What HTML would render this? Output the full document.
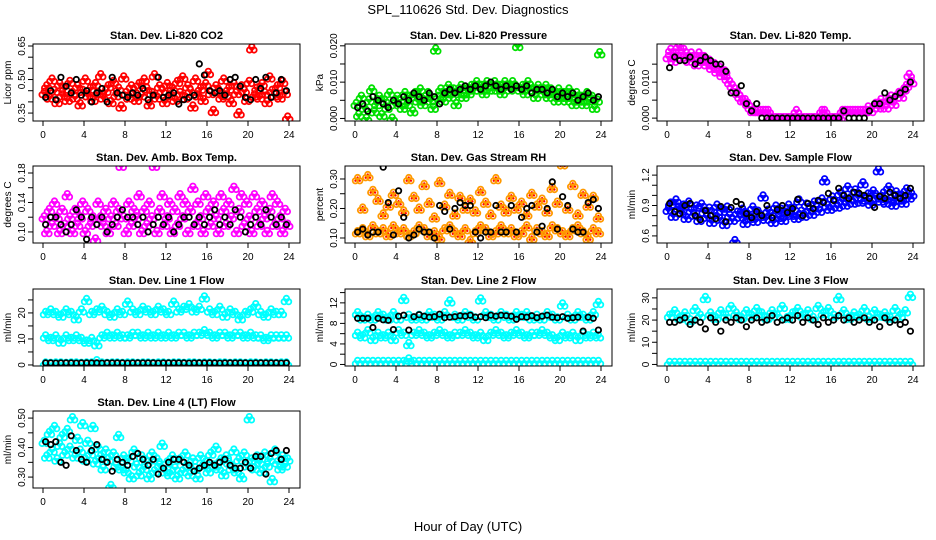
<!DOCTYPE html>
<html><head><meta charset="utf-8"><style>
html,body{margin:0;padding:0;background:#fff}
svg{display:block;font-family:"Liberation Sans",sans-serif}
</style></head><body>
<svg id="c" width="936" height="540" viewBox="0 0 936 540">
<text x="468" y="14" text-anchor="middle" font-size="13">SPL_110626  Std. Dev. Diagnostics</text>
<text x="468" y="531" text-anchor="middle" font-size="13">Hour of Day (UTC)</text>
</svg>
<script>
const xTicks=[0,4,8,12,16,20,24];
const co2Color=[0.44,0.47,0.42,0.50,0.45,0.40,0.48,0.43,0.46,0.41,0.49,0.44,0.42,0.47,0.39,0.45,0.50,0.43,0.46,0.41,0.48,0.44,0.52,0.42,0.45,0.47,0.40,0.49,0.43,0.46,0.38,0.51,0.44,0.42,0.47,0.45,0.41,0.48,0.43,0.50,0.46,0.39,0.44,0.52,0.42,0.47,0.45,0.40,0.48,0.43,0.46,0.41,0.49,0.44,0.51,0.42,0.47,0.45,0.38,0.50,0.43,0.46,0.41,0.48,0.53,0.44,0.36,0.47,0.45,0.42,0.50,0.43,0.46,0.40,0.48,0.44,0.35,0.47,0.45,0.41,0.49,0.64,0.43,0.46,0.42,0.48,0.44,0.40,0.51,0.45,0.43,0.47,0.42,0.49,0.44,0.33];
const co2Black=[0.42,0.45,0.41,0.51,0.47,0.44,0.50,0.43,0.45,0.40,0.44,0.46,0.40,0.51,0.44,0.43,0.42,0.44,0.43,0.46,0.41,0.43,0.51,0.42,0.43,0.44,0.39,0.41,0.42,0.43,0.57,0.52,0.45,0.44,0.45,0.43,0.50,0.51,0.47,0.42,0.41,0.50,0.46,0.51,0.42,0.44,0.50,0.45];
const presColor=[0.004,0.001,0.006,0.003,0.000,0.005,0.008,0.002,0.004,0.006,0.001,0.005,0.003,0.007,0.000,0.004,0.006,0.005,0.003,0.007,0.004,0.006,0.002,0.007,0.005,0.008,0.004,0.006,0.007,0.005,0.003,0.019,0.006,0.008,0.005,0.007,0.009,0.006,0.008,0.004,0.007,0.009,0.006,0.008,0.007,0.009,0.008,0.010,0.008,0.009,0.007,0.010,0.008,0.009,0.010,0.008,0.009,0.007,0.010,0.009,0.008,0.010,0.009,0.020,0.008,0.009,0.007,0.010,0.009,0.008,0.006,0.009,0.008,0.007,0.009,0.006,0.008,0.007,0.005,0.008,0.006,0.007,0.005,0.008,0.006,0.004,0.007,0.005,0.006,0.004,0.007,0.005,0.006,0.003,0.005,0.018];
const presBlack=[0.003,0.004,0.002,0.006,0.005,0.004,0.003,0.005,0.004,0.006,0.005,0.007,0.006,0.005,0.007,0.006,0.004,0.007,0.008,0.007,0.008,0.009,0.008,0.009,0.008,0.009,0.010,0.009,0.008,0.009,0.008,0.009,0.008,0.009,0.007,0.008,0.008,0.007,0.008,0.006,0.007,0.006,0.007,0.005,0.006,0.007,0.005,0.006];
const tempColor=[0.017,0.019,0.016,0.018,0.020,0.017,0.019,0.018,0.016,0.018,0.017,0.015,0.018,0.016,0.017,0.015,0.016,0.014,0.015,0.013,0.014,0.012,0.013,0.011,0.010,0.009,0.008,0.007,0.006,0.005,0.005,0.004,0.003,0.002,0.002,0.002,0.002,0.002,0.002,0.002,0.000,0.000,0.000,0.000,0.000,0.000,0.000,0.000,0.000,0.000,0.002,0.000,0.000,0.000,0.000,0.000,0.000,0.000,0.000,0.000,0.002,0.002,0.000,0.000,0.000,0.000,0.000,0.000,0.002,0.002,0.002,0.002,0.002,0.002,0.002,0.002,0.002,0.002,0.003,0.002,0.003,0.004,0.003,0.005,0.004,0.003,0.005,0.006,0.004,0.006,0.007,0.006,0.008,0.009,0.012,0.010];
const tempBlack=[0.014,0.017,0.016,0.016,0.017,0.015,0.016,0.017,0.016,0.015,0.015,0.013,0.007,0.007,0.009,0.004,0.002,0.004,0.000,0.000,0.000,0.000,0.000,0.000,0.000,0.000,0.000,0.000,0.000,0.000,0.000,0.000,0.000,0.000,0.002,0.000,0.000,0.000,0.000,0.002,0.004,0.004,0.007,0.005,0.006,0.007,0.008,0.010];
const ambColor=[0.12,0.10,0.13,0.11,0.14,0.12,0.10,0.13,0.11,0.15,0.12,0.10,0.13,0.11,0.12,0.14,0.10,0.13,0.11,0.12,0.09,0.14,0.12,0.11,0.13,0.10,0.12,0.14,0.11,0.13,0.19,0.12,0.10,0.14,0.11,0.13,0.12,0.15,0.10,0.13,0.11,0.14,0.12,0.19,0.10,0.13,0.15,0.11,0.12,0.14,0.10,0.13,0.11,0.15,0.12,0.14,0.10,0.13,0.16,0.11,0.14,0.12,0.10,0.15,0.13,0.11,0.14,0.12,0.10,0.15,0.13,0.11,0.14,0.12,0.16,0.10,0.13,0.15,0.11,0.14,0.12,0.10,0.15,0.13,0.11,0.14,0.12,0.10,0.13,0.15,0.11,0.14,0.12,0.10,0.13,0.11];
const ambBlack=[0.11,0.12,0.12,0.11,0.10,0.11,0.13,0.12,0.09,0.12,0.11,0.12,0.10,0.11,0.12,0.13,0.12,0.12,0.11,0.12,0.10,0.11,0.12,0.11,0.12,0.10,0.11,0.12,0.12,0.11,0.12,0.11,0.12,0.13,0.11,0.12,0.11,0.13,0.12,0.10,0.11,0.12,0.11,0.13,0.12,0.11,0.12,0.11];
const rhHigh=[0.30,0.20,0.31,0.26,0.23,0.18,0.21,0.25,0.22,0.19,0.30,0.24,0.20,0.28,0.22,0.17,0.29,0.21,0.25,0.18,0.24,0.20,0.23,0.19,0.26,0.22,0.18,0.30,0.21,0.19,0.24,0.20,0.22,0.18,0.25,0.21,0.23,0.19,0.27,0.22,0.35,0.20,0.28,0.18,0.25,0.21,0.24,0.17];
const rhLow=[0.12,0.13,0.11,0.14,0.12,0.13,0.11,0.14,0.12,0.13,0.11,0.12,0.14,0.13,0.11,0.12,0.10,0.13,0.14,0.12,0.11,0.13,0.09,0.12,0.14,0.13,0.11,0.12,0.14,0.12,0.13,0.11,0.12,0.14,0.10,0.13,0.12,0.11,0.14,0.13,0.12,0.11,0.13,0.14,0.12,0.10,0.13,0.12];
const rhBlack=[0.12,0.13,0.11,0.12,0.12,0.34,0.22,0.11,0.26,0.17,0.10,0.11,0.13,0.12,0.12,0.10,0.21,0.19,0.13,0.20,0.22,0.21,0.21,0.12,0.10,0.12,0.12,0.21,0.12,0.12,0.21,0.12,0.17,0.20,0.21,0.12,0.14,0.20,0.29,0.13,0.24,0.21,0.13,0.12,0.12,0.22,0.23,0.20];
const flowColor=[0.86,0.92,0.80,0.95,0.88,0.83,0.90,0.78,0.93,0.85,0.81,0.89,0.76,0.91,0.84,0.79,0.87,0.74,0.82,0.90,0.77,0.85,0.72,0.88,0.80,0.76,0.55,0.83,0.79,0.86,0.73,0.81,0.78,0.88,0.75,0.84,0.80,0.99,0.77,0.85,0.82,0.74,0.89,0.79,0.86,0.76,0.83,0.90,0.81,0.87,0.78,0.95,0.84,0.80,0.91,0.86,0.82,0.93,0.88,0.85,0.96,1.15,0.90,0.87,0.98,0.93,0.89,1.02,0.95,0.91,1.08,0.97,0.93,1.05,0.99,0.94,1.12,0.96,1.01,0.92,1.04,0.98,1.25,0.95,1.02,0.93,1.08,0.97,0.91,1.03,0.96,1.00,0.93,1.06,0.98,1.01];
const flowBlack=[0.92,0.84,0.82,0.90,0.92,0.80,0.76,0.85,0.80,0.77,0.89,0.74,0.88,0.94,0.91,0.82,0.78,0.84,0.80,0.90,0.78,0.86,0.90,0.83,0.87,0.96,0.80,0.92,0.87,0.95,0.93,1.02,0.95,1.07,1.00,0.97,1.03,1.02,1.00,0.97,0.88,0.99,0.97,1.03,1.00,0.97,1.00,1.07];
const l1High=[20,21,20,19,21,20,18,21,25,20,21,22,20,19,21,20,24,21,20,22,21,20,22,21,20,24,21,22,23,21,22,26,21,20,22,19,21,20,18,20,21,23,20,19,21,20,20,25];
const l1Mid=[11,10,11,9,11,10,11,10,9,10,8,11,12,11,12,11,11,12,12,11,12,11,12,11,12,11,12,12,11,12,12,13,12,11,12,12,11,12,12,11,12,11,11,10,11,11,11,11];
const l1Low=[0.6,0.5,0.6,0.6,0.5,0.6,0.6,0.5,0.6,0.6,1.5,0.6,0.5,0.6,0.6,0.5,0.6,0.6,0.5,0.6,0.6,0.5,0.6,0.6,0.5,0.6,0.6,0.5,0.6,0.6,0.5,0.6,0.6,0.5,0.6,0.6,0.5,0.6,0.6,0.5,0.6,0.6,0.5,0.6,0.6,0.5,0.6,0.6];
const l1Black=[0.8,0.8,0.7,0.8,0.8,0.8,0.7,0.8,0.8,0.8,0.8,0.7,0.8,0.8,0.8,0.8,0.7,0.8,0.8,0.8,0.8,0.8,0.7,0.8,0.8,0.8,0.8,0.8,0.7,0.8,0.8,0.8,0.8,0.8,0.7,0.8,0.8,0.8,0.8,0.8,0.7,0.8,0.8,0.8,0.8,0.8,0.7,0.8];
const l2High=[10,9,9.5,9,10,9.5,9,10,9,12.8,9.5,9,9.5,9,10,9.5,9,10,12.3,9.5,9,10,9.5,9,12.7,10,9.5,9,10,9.5,9,10,9.5,10,9,9.5,9,10,9.5,9,11.7,9.5,9,10,9.5,9,10,12];
const l2Mid=[6,5.5,6.5,5,6,5.5,6,5,6.5,6,4,6,6.5,6,5.5,6,6.5,6,5.5,6,6,6.5,6,5.5,6,5,6,6.5,6,5.5,6,6.5,6,5.5,6,6,6.5,6,5.5,5,6,5.5,6,5,6,5.5,6,5.5];
const l2Low=[0.5,0.5,0.5,0.5,0.5,0.5,0.5,0.5,0.5,0.5,1.0,0.5,0.5,0.5,0.5,0.5,0.5,0.5,0.5,0.5,0.5,0.5,0.5,0.5,0.5,0.5,0.5,0.5,0.5,0.5,0.5,0.5,0.5,0.5,0.5,0.5,0.5,0.5,0.5,0.5,0.5,0.5,0.5,0.5,0.5,0.5,0.5,0.5];
const l2Black=[9,9,9,7.2,9,8.7,8.6,6.8,9.4,9.6,6.7,9.3,9.7,9.4,9.2,9.3,9.8,9.1,9.2,9.3,9.5,9.4,9.6,9.2,9.3,9.1,9.6,9.4,9.6,9.5,9.4,8.8,9.3,9.2,9.5,9.1,9.4,9.6,9.2,9.1,9.3,9.0,9.1,9.2,6.5,9.2,9.0,6.7];
const l3High=[22,24,21,23,20,25,22,30,23,21,24,22,26,23,21,24,22,25,23,21,24,22,26,21,23,25,22,24,21,26,23,25,22,30,24,21,23,22,25,21,24,22,23,21,25,22,24,31];
const l3Low=[0.7,0.7,0.7,0.7,0.7,0.7,0.7,0.7,0.7,0.7,0.7,0.7,0.7,0.7,0.7,0.7,0.7,0.7,0.7,0.7,0.7,0.7,0.7,0.7,0.7,0.7,0.7,0.7,0.7,0.7,0.7,0.7,0.7,0.7,0.7,0.7,0.7,0.7,0.7,0.7,0.7,0.7,0.7,0.7,0.7,0.7,0.7,0.7];
const l3Black=[19,19,20,21,18,20,19,16,21,19,15,20,19,21,20,17,20,21,19,20,22,19,20,21,20,22,19,21,20,18,21,19,20,22,20,21,19,20,21,19,20,17,21,19,20,18,19,15];
const l4Color=[0.42,0.37,0.45,0.39,0.47,0.36,0.41,0.44,0.38,0.46,0.40,0.50,0.37,0.43,0.39,0.48,0.36,0.42,0.38,0.47,0.35,0.40,0.37,0.33,0.39,0.36,0.27,0.38,0.34,0.44,0.33,0.37,0.32,0.36,0.30,0.39,0.34,0.31,0.37,0.33,0.35,0.30,0.38,0.32,0.36,0.34,0.41,0.32,0.35,0.31,0.37,0.33,0.30,0.36,0.32,0.38,0.34,0.31,0.36,0.33,0.30,0.37,0.34,0.35,0.32,0.38,0.34,0.40,0.33,0.36,0.31,0.37,0.35,0.33,0.39,0.32,0.36,0.30,0.38,0.34,0.50,0.36,0.33,0.37,0.35,0.32,0.38,0.34,0.36,0.29,0.39,0.35,0.33,0.37,0.34,0.36];
const l4Black=[0.42,0.41,0.42,0.35,0.34,0.44,0.39,0.36,0.35,0.39,0.41,0.36,0.35,0.32,0.36,0.35,0.34,0.37,0.38,0.36,0.34,0.36,0.31,0.33,0.35,0.36,0.36,0.35,0.34,0.32,0.33,0.34,0.35,0.34,0.35,0.36,0.34,0.33,0.33,0.35,0.33,0.37,0.37,0.31,0.38,0.39,0.36,0.39];

const NS="http://www.w3.org/2000/svg";
const svg=document.getElementById('c');
function mk(tag,attrs,parent){const e=document.createElementNS(NS,tag);for(const k in attrs)e.setAttribute(k,attrs[k]);(parent||svg).appendChild(e);return e;}

const panels=[
 {name:'co2',title:'Stan. Dev. Li-820 CO2',ylab:'Licor ppm',col:0,row:0,dom:[0.3145,0.659],ticks:[0.35,0.40,0.45,0.50,0.55,0.60,0.65],labels:[0.35,0.50,0.65],dec:2,
  series:[[co2Color,'#ff0000'],[co2Black,'#000000']]},
 {name:'pressure',title:'Stan. Dev. Li-820 Pressure',ylab:'kPa',col:1,row:0,dom:[-0.0007,0.0205],ticks:[0,0.005,0.010,0.015,0.020],labels:[0,0.010,0.020],dec:3,
  series:[[presColor,'#00e000'],[presBlack,'#000000']]},
 {name:'li820-temp',title:'Stan. Dev. Li-820 Temp.',ylab:'degrees C',col:2,row:0,dom:[-0.0008,0.0206],ticks:[0,0.005,0.010,0.015],labels:[0,0.010],dec:3,
  series:[[tempColor,'#ff00ff'],[tempBlack,'#000000']]},
 {name:'amb-box-temp',title:'Stan. Dev. Amb. Box Temp.',ylab:'degrees C',col:0,row:1,dom:[0.085,0.1895],ticks:[0.10,0.12,0.14,0.16,0.18],labels:[0.10,0.14,0.18],dec:2,
  series:[[ambColor,'#ff00ff'],[ambBlack,'#000000']]},
 {name:'gas-stream-rh',title:'Stan. Dev. Gas Stream RH',ylab:'percent',col:1,row:1,dom:[0.083,0.344],ticks:[0.10,0.15,0.20,0.25,0.30],labels:[0.10,0.20,0.30],dec:2,
  series:[[rhHigh,'#ff9900'],[rhLow,'#ff9900'],[rhBlack,'#000000']]},
 {name:'sample-flow',title:'Stan. Dev. Sample Flow',ylab:'ml/min',col:2,row:1,dom:[0.53,1.29],ticks:[0.6,0.7,0.8,0.9,1.0,1.1,1.2],labels:[0.6,0.9,1.2],dec:1,
  series:[[flowColor,'#0000ff'],[flowBlack,'#000000']]},
 {name:'line1-flow',title:'Stan. Dev. Line 1 Flow',ylab:'ml/min',col:0,row:2,dom:[-0.4,29.2],ticks:[0,5,10,15,20,25],labels:[0,10,20],dec:0,
  series:[[l1High,'#00ffff'],[l1Mid,'#00ffff'],[l1Low,'#00ffff'],[l1Black,'#000000']]},
 {name:'line2-flow',title:'Stan. Dev. Line 2 Flow',ylab:'ml/min',col:1,row:2,dom:[-0.3,14.7],ticks:[0,2,4,6,8,10,12,14],labels:[0,4,8,12],dec:0,
  series:[[l2High,'#00ffff'],[l2Mid,'#00ffff'],[l2Low,'#00ffff'],[l2Black,'#000000']]},
 {name:'line3-flow',title:'Stan. Dev. Line 3 Flow',ylab:'ml/min',col:2,row:2,dom:[-0.7,34],ticks:[0,5,10,15,20,25,30],labels:[0,10,20,30],dec:0,
  series:[[l3High,'#00ffff'],[l3Low,'#00ffff'],[l3Black,'#000000']]},
 {name:'line4-flow',title:'Stan. Dev. Line 4 (LT) Flow',ylab:'ml/min',col:0,row:3,dom:[0.263,0.524],ticks:[0.30,0.35,0.40,0.45,0.50],labels:[0.30,0.40,0.50],dec:2,
  series:[[l4Color,'#00ffff'],[l4Black,'#000000']]}
];
const colX=[33,345,657], boxW=267, rowY=[44,166,289,411], boxH=77;
const clusterOffsets=[[0,-1.5],[-2.2,1.8],[2.2,1.8]];

panels.forEach(p=>{
  const L=colX[p.col], T=rowY[p.row], B=T+boxH;
  const g=mk('g',{});
  
  
  const xs=h=>L+10+h*(246/24);
  const ys=v=>B-(v-p.dom[0])/(p.dom[1]-p.dom[0])*boxH;
  const cid='clip-'+p.name;
  const cp=mk('clipPath',{id:cid},g); mk('rect',{x:L,y:T,width:boxW,height:boxH},cp);
  const pts=mk('g',{'clip-path':'url(#'+cid+')'},g);
  
  
  p.series.forEach(s=>{
    const vals=s[0], col=s[1], n=vals.length, step=24/n;
    const black=col==='#000000';
    vals.forEach((v,i)=>{
      const h=i*step+step/2;
      const cx=xs(h), cy=ys(v);
      const offs=black?[[0,0]]:clusterOffsets;
      offs.forEach(o=>{
        const c=mk('circle',{cx:(cx+o[0]).toFixed(1),cy:(cy+o[1]).toFixed(1),r:2.7,fill:'none',stroke:col,'stroke-width':1.8},pts);
        
        
        if(col==='#ff9900'){mk('circle',{cx:(cx+o[0]).toFixed(1),cy:(cy+o[1]).toFixed(1),r:1.1,fill:'#ff0000'},pts);}
      });
    });
  });
  const box=mk('rect',{x:L,y:T,width:boxW,height:boxH,fill:'none',stroke:'#000','stroke-width':1},g);
  
  
  const t=mk('text',{x:L+boxW/2,y:T-5,'text-anchor':'middle','font-size':11,'font-weight':'bold'},g);
  t.textContent=p.title;
  
  
  const yl=mk('text',{transform:`translate(${L-22},${T+boxH/2}) rotate(-90)`,'text-anchor':'middle','font-size':10},g);
  yl.textContent=p.ylab;
  
  
  mk('line',{x1:xs(0),x2:xs(24),y1:B,y2:B,stroke:'#000'},g);
  xTicks.forEach(h=>{
    mk('line',{x1:xs(h),x2:xs(h),y1:B,y2:B+5,stroke:'#000'},g);
    const tl=mk('text',{x:xs(h),y:B+17,'text-anchor':'middle','font-size':10},g);
    tl.textContent=h;
    
    
  });
  mk('line',{x1:L,x2:L,y1:ys(p.ticks[0]),y2:ys(p.ticks[p.ticks.length-1]),stroke:'#000'},g);
  p.ticks.forEach(v=>mk('line',{x1:L-5,x2:L,y1:ys(v),y2:ys(v),stroke:'#000'},g));
  p.labels.forEach(v=>{
    const tl=mk('text',{transform:`translate(${L-8},${ys(v)}) rotate(-90)`,'text-anchor':'middle','font-size':10},g);
    tl.textContent=v.toFixed(p.dec);
    
    
  });
});
</script>
</body></html>
